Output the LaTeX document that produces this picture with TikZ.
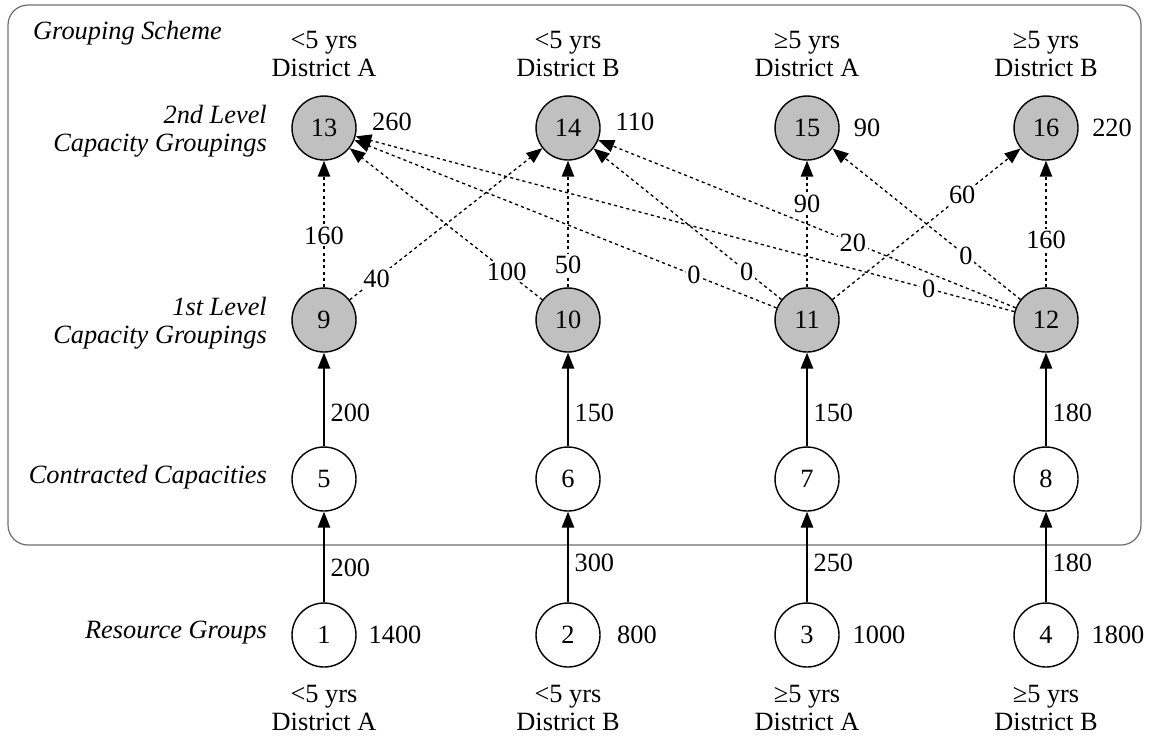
\documentclass[tikz,border=0pt]{standalone}
\usepackage{fontspec}
\setmainfont{Liberation Serif}
\usetikzlibrary{arrows.meta}
\definecolor{silver}{RGB}{192,192,192}
\definecolor{framegray}{RGB}{110,110,110}

\begin{document}
\begin{tikzpicture}[x=0.02cm,y=-0.02cm,
    font=\fontsize{15}{16}\selectfont,
    vertex/.style={circle,draw,line width=0.8pt,minimum size=1.28cm,inner sep=0pt},
    grouped/.style={vertex,fill=silver},
    flow/.style={-{Triangle[length=9pt,width=7pt]},line width=0.85pt},
    share/.style={flow,line width=0.75pt,dash pattern=on 1.8pt off 1.8pt},
    amount/.style={fill=white,inner sep=1pt},
    rowlabel/.style={font=\fontsize{15}{16}\selectfont\itshape,align=right,anchor=east},
    header/.style={align=center}]
  \useasboundingbox (0,0) rectangle (1151,735);
  \draw[framegray,line width=0.7pt,rounded corners=0.4cm] (8,5) rectangle (1141,545);

  % row captions
  \node[rowlabel,anchor=west] (scheme) at (27,33) {Grouping Scheme};
  \node[rowlabel] (lvl2) at (273,131) {2nd Level\\Capacity Groupings};
  \node[rowlabel] (lvl1) at (273,323) {1st Level\\Capacity Groupings};
  \node[rowlabel] (contr) at (273,477) {Contracted Capacities};
  \node[rowlabel] (res) at (273,633) {Resource Groups};

  % nodes
  \node[grouped] (13) at (324,128) {13};
  \node[grouped] (14) at (568,128) {14};
  \node[grouped] (15) at (807,128) {15};
  \node[grouped] (16) at (1046,128) {16};
  \node[grouped] (9) at (324,320) {9};
  \node[grouped] (10) at (568,320) {10};
  \node[grouped] (11) at (807,320) {11};
  \node[grouped] (12) at (1046,320) {12};
  \node[vertex] (5) at (324,479) {5};
  \node[vertex] (6) at (568,479) {6};
  \node[vertex] (7) at (807,479) {7};
  \node[vertex] (8) at (1046,479) {8};
  \node[vertex] (1) at (324,635) {1};
  \node[vertex] (2) at (568,635) {2};
  \node[vertex] (3) at (807,635) {3};
  \node[vertex] (4) at (1046,635) {4};

  % totals beside nodes
  \node (t13) at (392,122) {260};
  \node (t14) at (635,122) {110};
  \node (t15) at (867,128) {90};
  \node (t16) at (1112,128) {220};
  \node (t1) at (395,635) {1400};
  \node (t2) at (637,635) {800};
  \node (t3) at (879,635) {1000};
  \node (t4) at (1118,635) {1800};

  % column headers
  \node[header] (h13) at (324,54) {<5 yrs\\District A};
  \node[header] (h14) at (568,54) {<5 yrs\\District B};
  \node[header] (h15) at (807,54) {≥5 yrs\\District A};
  \node[header] (h16) at (1046,54) {≥5 yrs\\District B};
  \node[header] (h1) at (324,708) {<5 yrs\\District A};
  \node[header] (h2) at (568,708) {<5 yrs\\District B};
  \node[header] (h3) at (807,708) {≥5 yrs\\District A};
  \node[header] (h4) at (1046,708) {≥5 yrs\\District B};

  \begin{scope}[flow]
    \draw (1) -- node[right,pos=0.38] {200} (5);
    \draw (2) -- node[right,pos=0.43] {300} (6);
    \draw (3) -- node[right,pos=0.43] {250} (7);
    \draw (4) -- node[right,pos=0.43] {180} (8);
    \draw (5) -- node[right,pos=0.36] {200} (9);
    \draw (6) -- node[right,pos=0.36] {150} (10);
    \draw (7) -- node[right,pos=0.36] {150} (11);
    \draw (8) -- node[right,pos=0.36] {180} (12);
  \end{scope}

  \begin{scope}[share]
    \draw (9) -- node[amount,pos=0.41] {160} (13);
    \draw (9) -- node[amount,pos=0.14] {40} (14);
    \draw (10) -- node[amount,pos=0.185] {100} (13);
    \draw (10) -- node[amount,pos=0.18] {50} (14);
    \draw (11) -- node[amount,pos=0.196] {0} (13);
    \draw (11) -- node[amount,pos=0.185] {0} (14);
    \draw (11) -- node[amount,pos=0.66] {90} (15);
    \draw (11) -- node[amount,pos=0.69] {60} (16);
    \draw (12) -- node[amount,pos=0.13] {0} (13);
    \draw (12) -- node[amount,pos=0.39] {20} (14);
    \draw (12) -- node[amount,pos=0.29] {0} (15);
    \draw (12) -- node[amount,pos=0.375] {160} (16);
  \end{scope}
\end{tikzpicture}
\end{document}
